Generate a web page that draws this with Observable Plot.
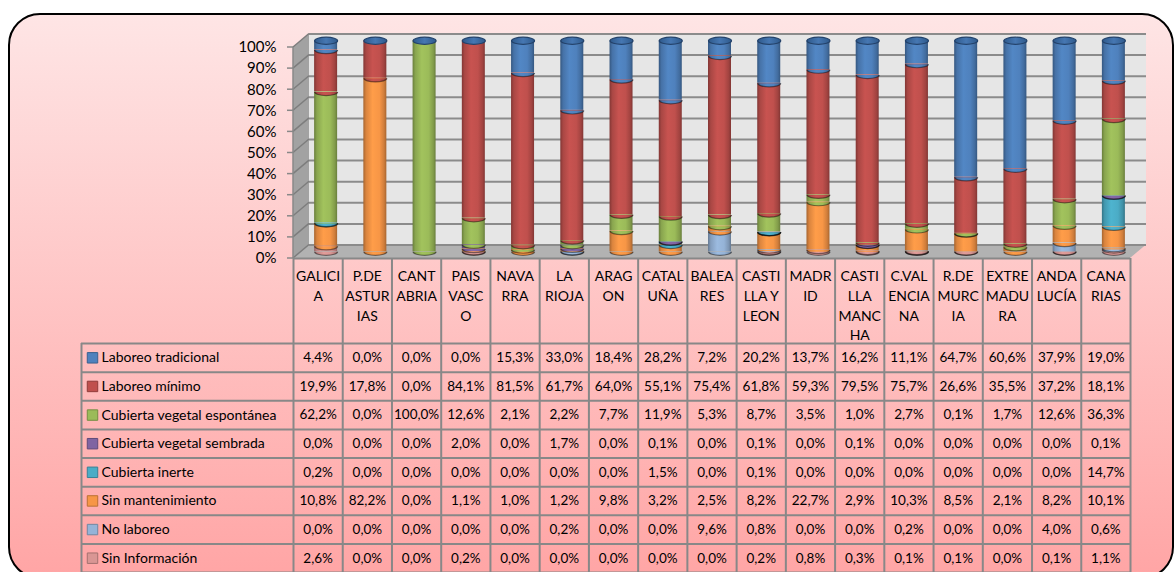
<!DOCTYPE html>
<html><head><meta charset="utf-8">
<script src="https://cdn.jsdelivr.net/npm/d3@7"></script>
<script src="https://cdn.jsdelivr.net/npm/@observablehq/plot@0.6"></script>
<style>
html,body{margin:0;padding:0;background:#fff;}
#wrap{position:relative;width:1176px;height:572px;overflow:hidden;font-family:Lato,sans-serif;}
#box{position:absolute;left:8px;top:13px;width:1162px;height:562px;border:2px solid #000;border-radius:32px;background:linear-gradient(#fee5e5,#ffa5a5);}
#chart,#table{position:absolute;left:0;}
#chart{top:0;} #table{top:258px;}
svg{overflow:visible;}
</style></head><body>
<div id="wrap"><div id="box"></div><div id="chart"></div><div id="table"></div></div>
<svg width="0" height="0" style="position:absolute;left:0;top:0"><defs id="defs"></defs></svg>
<script>
const categories = ["GALICIA","P.DE ASTURIAS","CANTABRIA","PAIS VASCO","NAVARRA","LA RIOJA","ARAGON","CATALUÑA","BALEARES","CASTILLA Y LEON","MADRID","CASTILLA MANCHA","C.VALENCIANA","R.DE MURCIA","EXTREMADURA","ANDALUCÍA","CANARIAS"];
const categoryLabels = ["GALICI\nA","P.DE\nASTUR\nIAS","CANT\nABRIA","PAIS\nVASC\nO","NAVA\nRRA","LA\nRIOJA","ARAG\nON","CATAL\nUÑA","BALEA\nRES","CASTI\nLLA Y\nLEON","MADR\nID","CASTI\nLLA\nMANC\nHA","C.VAL\nENCIA\nNA","R.DE\nMURC\nIA","EXTRE\nMADU\nRA","ANDA\nLUCÍA","CANA\nRIAS"];
const series = ["Laboreo tradicional","Laboreo mínimo","Cubierta vegetal espontánea","Cubierta vegetal sembrada","Cubierta inerte","Sin mantenimiento","No laboreo","Sin Información"];
const seriesColors = ["#4F81BD","#C0504D","#9BBB59","#8064A2","#4BACC6","#F79646","#95B3D7","#D99694"];
const laboreoTradicional = [4.4,0.0,0.0,0.0,15.3,33.0,18.4,28.2,7.2,20.2,13.7,16.2,11.1,64.7,60.6,37.9,19.0];
const laboreoMinimo = [19.9,17.8,0.0,84.1,81.5,61.7,64.0,55.1,75.4,61.8,59.3,79.5,75.7,26.6,35.5,37.2,18.1];
const cubiertaEspontanea = [62.2,0.0,100.0,12.6,2.1,2.2,7.7,11.9,5.3,8.7,3.5,1.0,2.7,0.1,1.7,12.6,36.3];
const cubiertaSembrada = [0.0,0.0,0.0,2.0,0.0,1.7,0.0,0.1,0.0,0.1,0.0,0.1,0.0,0.0,0.0,0.0,0.1];
const cubiertaInerte = [0.2,0.0,0.0,0.0,0.0,0.0,0.0,1.5,0.0,0.1,0.0,0.0,0.0,0.0,0.0,0.0,14.7];
const sinMantenimiento = [10.8,82.2,0.0,1.1,1.0,1.2,9.8,3.2,2.5,8.2,22.7,2.9,10.3,8.5,2.1,8.2,10.1];
const noLaboreo = [0.0,0.0,0.0,0.0,0.0,0.2,0.0,0.0,9.6,0.8,0.0,0.0,0.2,0.0,0.0,4.0,0.6];
const sinInformacion = [2.6,0.0,0.0,0.2,0.0,0.0,0.0,0.0,0.0,0.2,0.8,0.3,0.1,0.1,0.0,0.1,1.1];
const yTicks = [0,0.1,0.2,0.3,0.4,0.5,0.6,0.7,0.8,0.9,1];

const seriesValues = [laboreoTradicional,laboreoMinimo,cubiertaEspontanea,cubiertaSembrada,cubiertaInerte,sinMantenimiento,noLaboreo,sinInformacion];
const rows = [];
seriesValues.forEach((vals,k)=>vals.forEach((v,i)=>rows.push({cat:categories[i],series:series[k],value:v})));
const nonzero = rows.filter(d=>d.value>0);

// layout
const W = 1176;
const plotLeft = 293, plotRight = 1130, plotTop = 47, plotBottom = 258;
const depthX = 16, depthY = -13.5;
const cdx = depthX/2, cdy = depthY/2;
const cylW = 23, ry = 3.6, rx = cylW/2;
const step = (plotRight-plotLeft)/categories.length;
const padIn = 1 - cylW/step;

// gradients
const defs = d3.select("#defs");
seriesColors.forEach((c,k)=>{
  const g = defs.append("linearGradient").attr("id","cyl"+k).attr("x1",0).attr("x2",1).attr("y1",0).attr("y2",0);
  const col = d3.color(c);
  [[0,col.darker(1.1)],[0.12,col.darker(0.35)],[0.4,col.brighter(0.12)],[0.7,col],[0.9,col.darker(0.5)],[1,col.darker(1.1)]]
    .forEach(([o,cc])=>g.append("stop").attr("offset",o).attr("stop-color",cc.formatHex()));
});
const capGrad = defs.append("linearGradient").attr("id","cap").attr("x1",0).attr("x2",1).attr("y1",0).attr("y2",0);
[[0,"#2f5a8c"],[0.5,"#4677b2"],[1,"#2f5a8c"]].forEach(([o,c])=>capGrad.append("stop").attr("offset",o).attr("stop-color",c));

const K = 0.5523;
const ellipseSym = {draw(ctx){const kx=rx*K,ky=ry*K;ctx.moveTo(-rx,0);ctx.bezierCurveTo(-rx,-ky,-kx,-ry,0,-ry);ctx.bezierCurveTo(kx,-ry,rx,-ky,rx,0);ctx.bezierCurveTo(rx,ky,kx,ry,0,ry);ctx.bezierCurveTo(-kx,ry,-rx,ky,-rx,0);ctx.closePath();}};
const lowerHalf = {draw(ctx){const kx=rx*K,ky=ry*K;ctx.moveTo(-rx,0);ctx.bezierCurveTo(-rx,ky,-kx,ry,0,ry);ctx.bezierCurveTo(kx,ry,rx,ky,rx,0);ctx.closePath();}};
const lowerArc = {draw(ctx){const kx=rx*K,ky=ry*K;ctx.moveTo(-rx,0);ctx.bezierCurveTo(-rx,ky,-kx,ry,0,ry);ctx.bezierCurveTo(kx,ry,rx,ky,rx,0);}};

const stackOpts = {x:"cat", y:"value", z:"series", order: series.slice().reverse(), offset:"normalize"};

const chart = Plot.plot({
  width: W, height: 260,
  marginLeft: plotLeft, marginRight: W-plotRight, marginTop: plotTop, marginBottom: 260-plotBottom,
  style: {background:"transparent", fontFamily:"Lato, sans-serif", color:"#000"},
  x: {type:"band", domain: categories, paddingInner: padIn, paddingOuter: padIn/2, round:false, axis:null},
  y: {domain:[0,1], axis:null},
  color: {type:"ordinal", domain: series, range: series.map((s,k)=>`url(#cyl${k})`)},
  marks: [
    Plot.ruleY(yTicks, {stroke:"#8b8b8b", strokeWidth:2, dx: depthX, dy: depthY}),
    Plot.axisY({ticks: yTicks, tickSize: 0, tickPadding: 17, fontSize: 15, label: null, tickFormat: d=>Math.round(d*100)+"%", fill:"#000"}),
    Plot.barY(nonzero, Plot.stackY({...stackOpts, fill:"series", dx: cdx, dy: cdy})),
    Plot.dot(nonzero, Plot.stackY1({...stackOpts, fill:"series", symbol: lowerHalf, dx: cdx, dy: cdy})),
    Plot.dot(nonzero, Plot.stackY1({...stackOpts, fill:"none", stroke:"rgba(0,0,0,0.45)", strokeWidth:1.2, symbol: lowerArc, dx: cdx, dy: cdy})),
    Plot.dot(rows, Plot.stackY2({...stackOpts, fill:"url(#cap)", stroke:"#24426a", strokeWidth:1.2, symbol: ellipseSym, r: d=>d.series===series[0]?1:0, dx: cdx, dy: cdy}))
  ]
});
document.getElementById("chart").appendChild(chart);

// 3D walls drawn from the plot's own scales
(function(){
  const ys = chart.scale("y");
  const xr = chart.scale("x").range;
  const x0 = xr[0], x1 = xr[1];
  const y0 = ys.apply(0), yT = ys.apply(1);
  const svg = d3.select(chart);
  const deco = svg.insert("g","g");
  deco.append("rect").attr("x",x0+depthX).attr("y",yT+depthY).attr("width",x1-x0).attr("height",y0-yT).attr("fill","#e6e6e6");
  deco.append("polygon").attr("points",[[x0,y0],[x0+depthX,y0+depthY],[x1+depthX,y0+depthY],[x1,y0]].join(" ")).attr("fill","#b2b2b2");
  deco.append("polygon").attr("points",[[x0,y0],[x0,yT],[x0+depthX,yT+depthY],[x0+depthX,y0+depthY]].join(" ")).attr("fill","#a2a2a2");
  yTicks.forEach(t=>{
    const yy = ys.apply(t);
    deco.append("line").attr("x1",x0).attr("y1",yy).attr("x2",x0+depthX).attr("y2",yy+depthY).attr("stroke","#7d7d7d").attr("stroke-width",1.5);
    deco.append("line").attr("x1",x0-6).attr("y1",yy).attr("x2",x0).attr("y2",yy).attr("stroke","#888").attr("stroke-width",1.5);
  });
  deco.append("line").attr("x1",x0).attr("y1",yT).attr("x2",x0).attr("y2",y0).attr("stroke","#888").attr("stroke-width",1.5);
})();

// data table
const tableTop = plotBottom, headerBottom = 343, tableBottom = 572, tableLeft = 81;
const rowH = (tableBottom-headerBottom)/series.length;
const headerRows = (headerBottom-tableTop)/rowH;
const labelCols = (plotLeft-tableLeft)/step;
const fmt = v => v.toFixed(1).replace(".",",")+"%";
const gridStroke = "#888888";
const table = Plot.plot({
  width: W, height: tableBottom-tableTop,
  marginLeft: tableLeft, marginRight: W-plotRight, marginTop: 0, marginBottom: 0,
  style: {background:"transparent", fontFamily:"Lato, sans-serif", color:"#000"},
  x: {type:"linear", domain:[-labelCols, categories.length], axis:null},
  y: {type:"linear", domain:[-headerRows, series.length], reverse:true, axis:null},
  marks: [
    Plot.ruleX(d3.range(0, categories.length+1), {stroke: gridStroke, strokeWidth:2}),
    Plot.ruleX([-labelCols], {y1:0, y2:series.length, stroke: gridStroke, strokeWidth:2}),
    Plot.ruleY(d3.range(0, series.length+1), {x1:-labelCols, x2:categories.length, stroke: gridStroke, strokeWidth:2}),
    Plot.ruleY([-headerRows], {x1:0, x2:categories.length, stroke: gridStroke, strokeWidth:2}),
    Plot.text(categoryLabels, {x:(d,i)=>i+0.5, y:-headerRows, text:d=>d, lineAnchor:"top", dy:9, fontSize:14, lineHeight:1.4, fill:"#000"}),
    Plot.text(rows, {x:d=>categories.indexOf(d.cat)+0.5, y:d=>series.indexOf(d.series)+0.5, text:d=>fmt(d.value), fontSize:13.5, fill:"#000"}),
    Plot.dot(series, {x:-labelCols, y:(d,i)=>i+0.5, dx:11, symbol:"square", r:5.9, fill:(d,i)=>seriesColors[i], stroke:(d,i)=>d3.color(seriesColors[i]).darker(0.8).formatHex(), strokeWidth:1}),
    Plot.text(series, {x:-labelCols, y:(d,i)=>i+0.5, dx:20, textAnchor:"start", fontSize:14, fill:"#000"})
  ]
});
document.getElementById("table").appendChild(table);
</script>
</body></html>
